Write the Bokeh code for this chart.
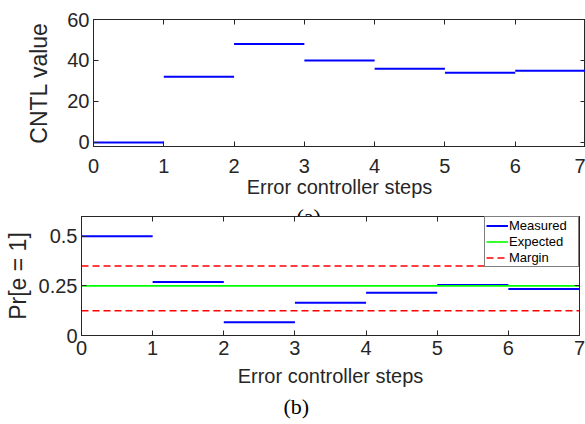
from bokeh.plotting import figure
from bokeh.models import Range1d, FixedTicker, LinearAxis, Legend, LegendItem, Title
from bokeh.embed import file_html
from bokeh.resources import INLINE

# ---- data ----
steps = [0, 1, 2, 3, 4, 5, 6, 7]
cntl_values = [0, 32, 48, 40, 36, 34, 35]
measured = [0.5, 0.27, 0.067, 0.165, 0.216, 0.254, 0.234]
expected = 0.25
margin_low = 0.125
margin_high = 0.35
x_ticks = [0, 1, 2, 3, 4, 5, 6, 7]
y1_ticks = [0, 20, 40, 60]
y2_ticks = [0, 0.25, 0.5]
y2_tick_labels = ["0", "0.25", "0.5"]

FONT = "Liberation Sans"
SERIF = "Liberation Serif"
AX = "#262626"
TICK_FS = "20px"
XLAB_FS = "20px"
YLAB_FS = "23px"


def style(p):
    p.outline_line_color = AX
    p.outline_line_width = 1
    p.grid.visible = False
    p.background_fill_color = "white"
    for ax in p.axis:
        ax.axis_line_color = AX
        ax.major_tick_line_color = AX
        ax.minor_tick_line_color = None
        ax.major_tick_in = 5
        ax.major_tick_out = 0
        ax.major_label_text_font = FONT
        ax.major_label_text_font_size = TICK_FS
        ax.major_label_text_color = AX
        ax.axis_label_text_font = FONT
        ax.axis_label_text_font_size = XLAB_FS
        ax.axis_label_text_font_style = "normal"
        ax.axis_label_text_color = AX
    for ax in p.yaxis:
        ax.axis_label_text_font_size = YLAB_FS


def mirror(p, xt, yt):
    top = LinearAxis(ticker=FixedTicker(ticks=xt))
    right = LinearAxis(ticker=FixedTicker(ticks=yt))
    for ax in (top, right):
        ax.major_label_text_font_size = "0px"
        ax.major_label_standoff = 0
        ax.axis_line_color = AX
        ax.major_tick_line_color = AX
        ax.minor_tick_line_color = None
        ax.major_tick_in = 5
        ax.major_tick_out = 0
    p.add_layout(top, "above")
    p.add_layout(right, "right")


# ---- top figure ----
p1 = figure(width=585, height=232, output_backend="svg", toolbar_location=None,
            x_range=Range1d(0, 7), y_range=Range1d(-2, 60),
            min_border_left=93, min_border_right=0, min_border_top=19, min_border_bottom=86)
p1.border_fill_color = "white"
p1.segment(x0=steps[:-1], x1=steps[1:], y0=cntl_values, y1=cntl_values,
           line_color="#0000FF", line_width=2)
p1.xaxis.ticker = FixedTicker(ticks=x_ticks)
p1.yaxis.ticker = FixedTicker(ticks=y1_ticks)
p1.xaxis.axis_label = "Error controller steps"
p1.yaxis.axis_label = "CNTL value"
p1.xaxis.major_label_standoff = 12
p1.xaxis.axis_label_standoff = 0
p1.yaxis.major_label_standoff = 4
p1.yaxis.axis_label_standoff = 12
style(p1)
mirror(p1, x_ticks, y1_ticks)
p1.add_layout(Title(text="(a)", align="left", offset=203, standoff=2,
                    text_font=SERIF, text_font_size="22px", text_font_style="normal",
                    text_color="black"), "below")

# ---- bottom figure ----
p2 = figure(width=585, height=212, output_backend="svg", toolbar_location=None,
            x_range=Range1d(0, 7), y_range=Range1d(0, 0.6),
            min_border_left=81, min_border_right=6, min_border_top=4, min_border_bottom=89)
p2.border_fill_alpha = 0
p2.styles = {"margin-top": "-20px"}
r_meas = p2.segment(x0=steps[:-1], x1=steps[1:], y0=measured, y1=measured,
                    line_color="#0000FF", line_width=2)
xs_full = [steps[0], steps[-1]]
r_exp = p2.line(x=xs_full, y=[expected, expected], line_color="#00FF00", line_width=1.6)
r_m1 = p2.line(x=xs_full, y=[margin_high, margin_high], line_color="#FF0000",
               line_width=1.5, line_dash="7 4")
p2.line(x=xs_full, y=[margin_low, margin_low], line_color="#FF0000",
        line_width=1.5, line_dash="7 4")
p2.xaxis.ticker = FixedTicker(ticks=x_ticks)
p2.yaxis.ticker = FixedTicker(ticks=y2_ticks)
p2.yaxis.major_label_overrides = dict(zip(y2_ticks, y2_tick_labels))
p2.xaxis.axis_label = "Error controller steps"
p2.yaxis.axis_label = "Pr[e = 1]"
p2.xaxis.major_label_standoff = 5
p2.xaxis.axis_label_standoff = 7
p2.yaxis.major_label_standoff = 4
p2.yaxis.axis_label_standoff = 5
style(p2)
mirror(p2, x_ticks, y2_ticks)

legend = Legend(items=[LegendItem(label="Measured", renderers=[r_meas]),
                       LegendItem(label="Expected", renderers=[r_exp]),
                       LegendItem(label="Margin", renderers=[r_m1])],
                location="top_right")
legend.margin = 0
legend.padding = 1
legend.spacing = 1
legend.border_line_color = "black"
legend.border_line_width = 1
legend.label_text_font = FONT
legend.label_text_font_size = "13px"
legend.label_text_color = "black"
legend.label_height = 15
legend.label_width = 68
legend.glyph_width = 22
legend.glyph_height = 15
legend.label_standoff = 1
legend.background_fill_alpha = 1
p2.add_layout(legend)

p2.add_layout(Title(text="(b)", align="left", offset=202, standoff=4,
                    text_font=SERIF, text_font_size="22px", text_font_style="normal",
                    text_color="black"), "below")

open("out.html", "w").write(file_html([p1, p2], INLINE))
